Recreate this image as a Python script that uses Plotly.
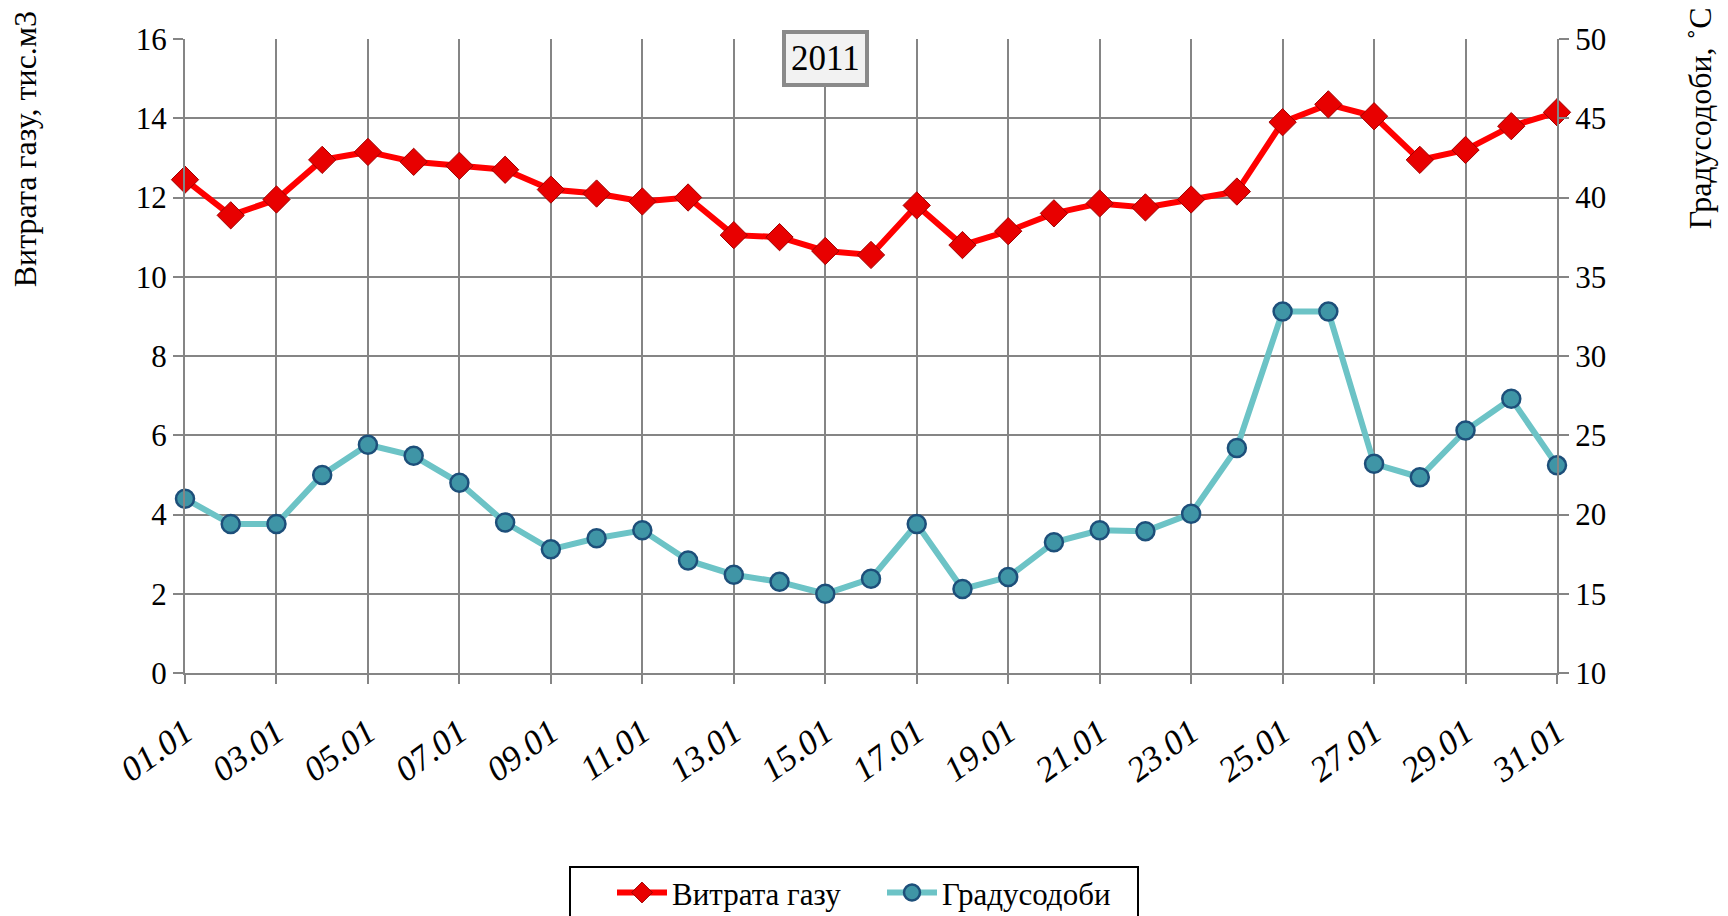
import plotly.graph_objects as go

days = [f"{d:02d}.01" for d in range(1, 32)]
gas = [12.45, 11.55, 11.95, 12.95, 13.15, 12.9, 12.8, 12.7, 12.2, 12.1,
       11.9, 12.0, 11.05, 11.0, 10.65, 10.55, 11.8, 10.8, 11.15, 11.6,
       11.85, 11.75, 11.95, 12.15, 13.9, 14.35, 14.05, 12.95, 13.2, 13.8, 14.15]
degree_days = [21.0, 19.4, 19.4, 22.5, 24.4, 23.7, 22.0, 19.5, 17.8, 18.5,
               19.0, 17.1, 16.2, 15.75, 15.0, 15.95, 19.4, 15.3, 16.05, 18.25,
               19.0, 18.95, 20.05, 24.2, 32.8, 32.8, 23.2, 22.35, 25.3, 27.3, 23.1]
tick_labels = days[::2]
left_ticks = [0, 2, 4, 6, 8, 10, 12, 14, 16]
right_ticks = [10, 15, 20, 25, 30, 35, 40, 45, 50]

FONT = "Liberation Serif, Times New Roman, serif"
GRID = "#858585"

# page layout (the html body adds an 8px offset)
PL, PR, PT, PB = 185, 1557, 38.6, 673


def px(X):
    return (X - PL) / (PR - PL)


def py(Y):
    return (PB - Y) / (PB - PT)


fig = go.Figure()
fig.add_trace(go.Scatter(
    x=days, y=gas, name="Витрата газу", mode="lines+markers",
    line=dict(color="#ff0000", width=6),
    marker=dict(symbol="diamond", size=21, color="#e80000",
                line=dict(color="#a00000", width=1)),
    cliponaxis=False, yaxis="y"))
fig.add_trace(go.Scatter(
    x=days, y=degree_days, name="Градусодоби", mode="lines+markers",
    line=dict(color="#6cc3c6", width=6),
    marker=dict(symbol="circle", size=18, color="#3f95a6",
                line=dict(color="#1d4f7a", width=2.5)),
    cliponaxis=False, yaxis="y2"))

fig.update_layout(
    width=1720, height=908,
    margin=dict(l=PL - 8, r=1720 - (PR - 8), t=PT - 8, b=908 - (PB - 8), autoexpand=False),
    paper_bgcolor="white", plot_bgcolor="white",
    font=dict(family=FONT, color="black", size=30),
    showlegend=True,
    legend=dict(orientation="h", x=px(882), xanchor="center", y=py(893), yanchor="middle",
                bgcolor="rgba(0,0,0,0)", borderwidth=0,
                font=dict(size=31, family=FONT, color="black"),
                itemwidth=50, entrywidth=205, traceorder="normal"),
    xaxis=dict(type="category", categoryorder="array", categoryarray=days,
               range=[0, 30], tickvals=tick_labels, ticktext=tick_labels,
               tickangle=-36, tickfont=dict(family=FONT, size=35, style="italic", color="black"),
               ticklabelstandoff=14,
               showgrid=True, gridcolor=GRID, gridwidth=2, automargin=False,
               ticks="outside", ticklen=9, tickcolor=GRID, tickwidth=2,
               showline=True, linecolor=GRID, linewidth=2, zeroline=False),
    yaxis=dict(range=[0, 16], tickvals=left_ticks, showgrid=True, automargin=False,
               gridcolor=GRID, gridwidth=2, zeroline=False,
               ticks="outside", ticklen=10, tickcolor=GRID, tickwidth=2,
               showline=True, linecolor=GRID, linewidth=2,
               tickfont=dict(family=FONT, size=31, color="black")),
    yaxis2=dict(range=[10, 50], tickvals=right_ticks, overlaying="y", side="right",
                showgrid=False, zeroline=False, automargin=False,
                ticks="outside", ticklen=10, tickcolor=GRID, tickwidth=2,
                showline=True, linecolor=GRID, linewidth=2,
                tickfont=dict(family=FONT, size=31, color="black")),
    shapes=[dict(type="rect", xref="paper", yref="paper",
                 x0=px(570), x1=px(1138), y0=py(867), y1=py(940),
                 line=dict(color="black", width=2), fillcolor="rgba(0,0,0,0)")],
    annotations=[
        dict(text="2011", x=14, xref="x", xanchor="center",
             y=py(58.5), yref="paper", yanchor="middle",
             showarrow=False, font=dict(family=FONT, size=35, color="black"),
             bgcolor="#f2f2f2", bordercolor="#8a8a8a", borderwidth=4,
             borderpad=5),
        dict(text="Витрата газу, тис.м3", textangle=-90, xref="paper", yref="paper",
             x=px(25), y=py(149), xanchor="center", yanchor="middle",
             showarrow=False, font=dict(family=FONT, size=32, color="black")),
        dict(text="Градусодоби, ˚С", textangle=-90, xref="paper", yref="paper",
             x=px(1700), y=py(118), xanchor="center", yanchor="middle",
             showarrow=False, font=dict(family=FONT, size=32, color="black")),
    ],
)

fig.write_html("out.html")
